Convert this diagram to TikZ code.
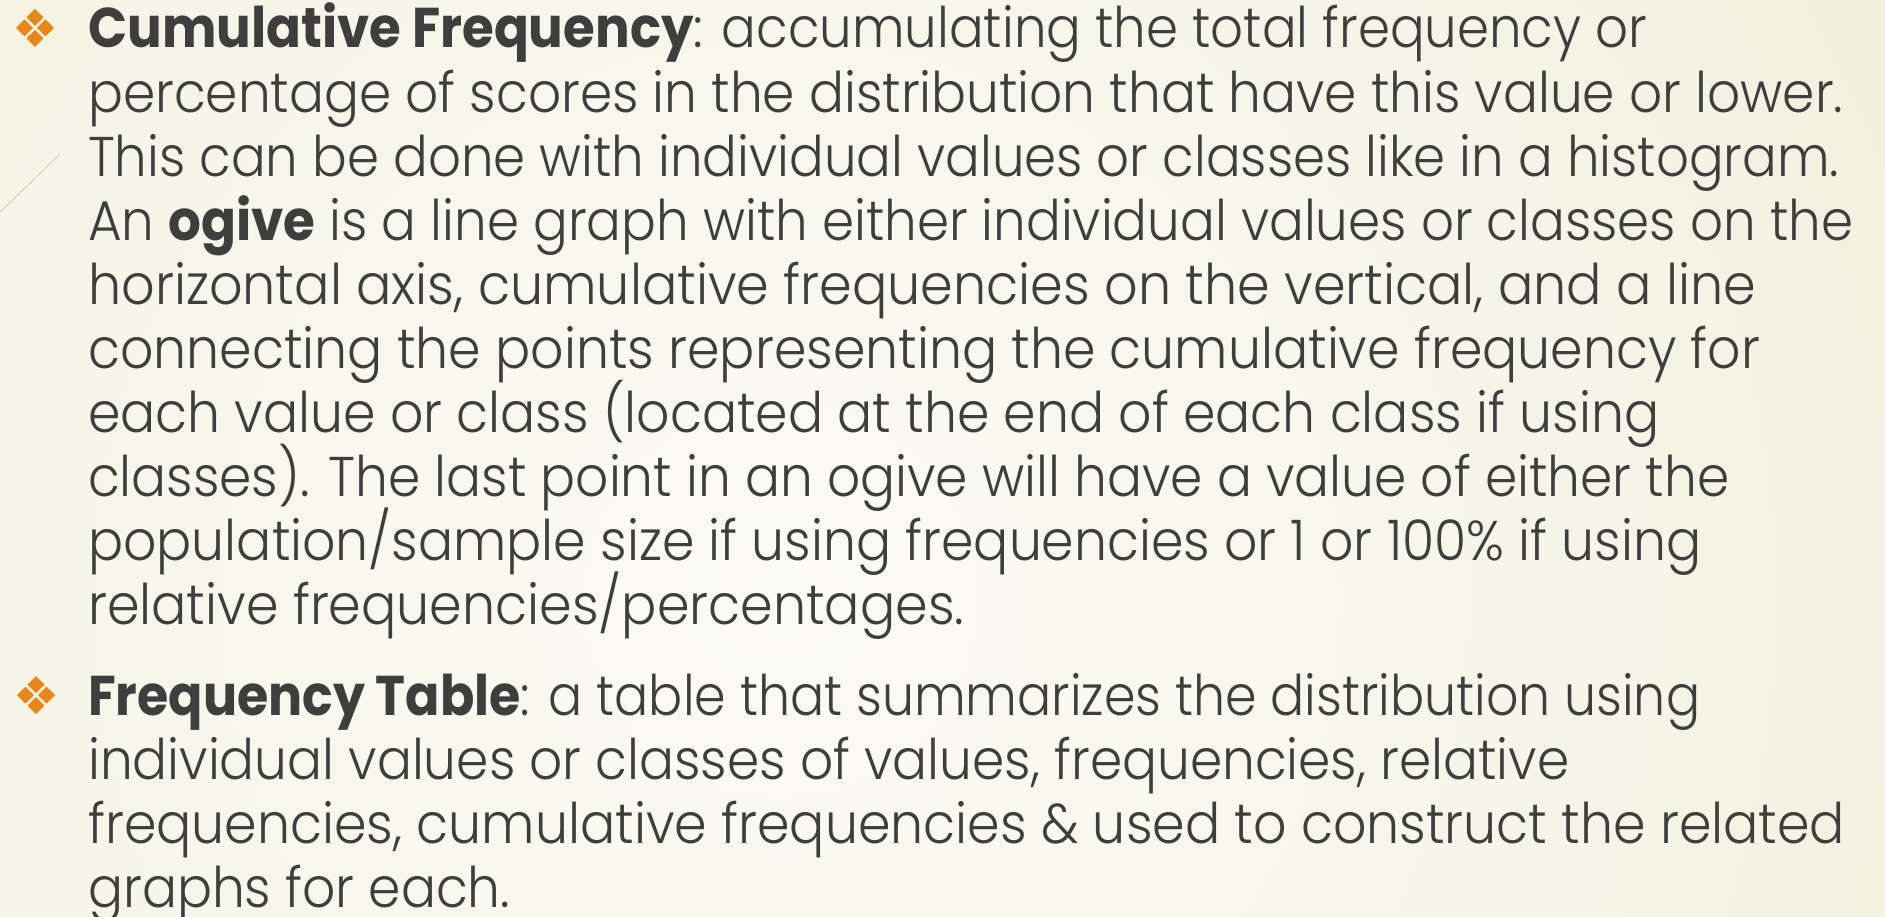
\documentclass[tikz,border=0pt]{standalone}
\usepackage{fontspec}
\setmainfont{Poppins}[UprightFont=* Light, BoldFont=* Bold]
\usepackage{graphicx}
\definecolor{textgray}{RGB}{62,62,62}
\definecolor{bulletorange}{RGB}{232,134,24}
\definecolor{bgin}{RGB}{251,251,245}
\definecolor{bgout}{RGB}{233,231,201}
\definecolor{themeline}{RGB}{214,212,192}
\newcommand\fitline[2]{\resizebox{#1pt}{\height}{#2}}
\tikzset{
  txt/.style={anchor=base west, inner sep=0pt, text=textgray, font=\fontsize{56pt}{64pt}\selectfont},
  bulletmark/.pic={
    \foreach \dx/\dy in {0/-10.5,0/10.5,-10.5/0,10.5/0}
      \fill[bulletorange] (\dx,\dy) ++(0,-8.5) -- ++(8.5,8.5) -- ++(-8.5,8.5) -- ++(-8.5,-8.5) -- cycle;
  }
}
\begin{document}
\begin{tikzpicture}[x=1pt,y=-1pt]
\useasboundingbox (0,0) rectangle (1885,917);
\begin{scope}
  \clip (0,0) rectangle (1885,917);
  \shade[inner color=bgin, outer color=bgout] (780,600) circle (2500);
  \draw[themeline, line width=1pt] (-5,217) -- (60,154);
\end{scope}
% bullets
\pic at (35,28) {bulletmark};
\pic at (36,695) {bulletmark};
% first bullet
\node[txt] (a1) at (88,48.0) {\fitline{1559}{\textbf{Cumulative Frequency}: accumulating the total frequency or}};
\node[txt] (a2) at (88,112.1) {\fitline{1755}{percentage of scores in the distribution that have this value or lower.}};
\node[txt] (a3) at (88,176.2) {\fitline{1751}{This can be done with individual values or classes like in a histogram.}};
\node[txt] (a4) at (88,240.3) {\fitline{1765}{An \textbf{ogive} is a line graph with either individual values or classes on the}};
\node[txt] (a5) at (88,304.4) {\fitline{1668}{horizontal axis, cumulative frequencies on the vertical, and a line}};
\node[txt] (a6) at (88,368.5) {\fitline{1672}{connecting the points representing the cumulative frequency for}};
\node[txt] (a7) at (88,432.6) {\fitline{1571}{each value or class (located at the end of each class if using}};
\node[txt] (a8) at (88,496.7) {\fitline{1641}{classes). The last point in an ogive will have a value of either the}};
\node[txt] (a9) at (88,560.8) {\fitline{1613}{population/sample size if using frequencies or 1 or 100\% if using}};
\node[txt] (a10) at (88,624.9) {\fitline{876}{relative frequencies/percentages.}};
% second bullet
\node[txt] (b1) at (88,715) {\fitline{1612}{\textbf{Frequency Table}: a table that summarizes the distribution using}};
\node[txt] (b2) at (88,779) {\fitline{1481}{individual values or classes of values, frequencies, relative}};
\node[txt] (b3) at (88,843) {\fitline{1757}{frequencies, cumulative frequencies \& used to construct the related}};
\node[txt] (b4) at (88,907) {\fitline{422}{graphs for each.}};
\end{tikzpicture}
\end{document}
